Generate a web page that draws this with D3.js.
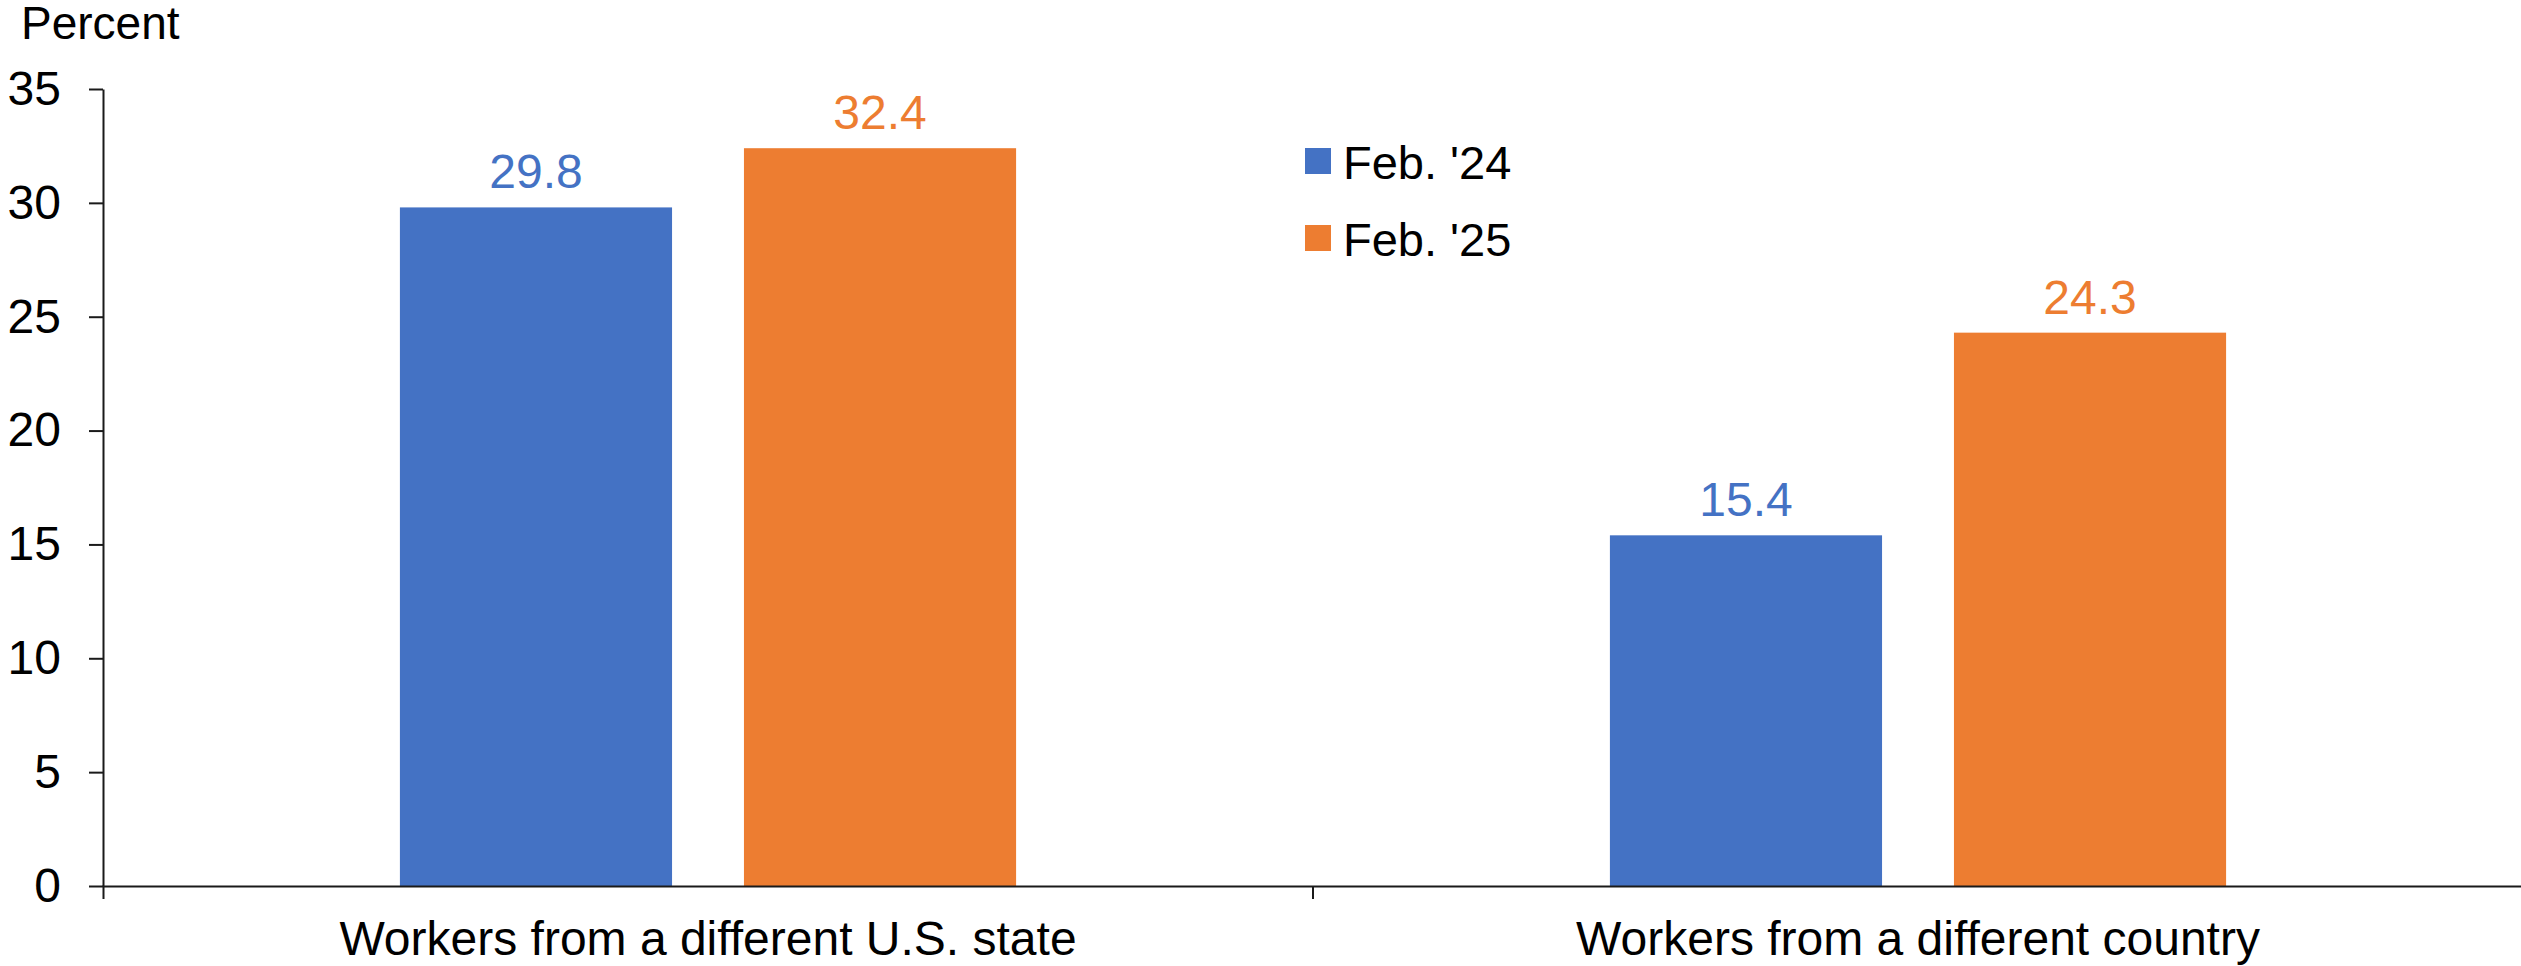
<!DOCTYPE html>
<html>
<head>
<meta charset="utf-8">
<script src="https://cdn.jsdelivr.net/npm/d3@7"></script>
<style>
    body { margin: 0; background: #fff; }
    svg text { font-family: "Liberation Sans", Arial, sans-serif; }
</style>
</head>
<body>
<div class="chart"></div>
<script>
'use strict';
const categories = ["Workers from a different U.S. state", "Workers from a different country"];
const seriesNames = ["Feb. '24", "Feb. '25"];
const feb24 = [29.8, 15.4];
const feb25 = [32.4, 24.3];
const yTicks = [0, 5, 10, 15, 20, 25, 30, 35];
const colors = ["#4472C4", "#ED7D31"];

(() => {
    const width = 2521, height = 966;
    const margin = { top: 89, right: -2, bottom: 80, left: 103 };
    const fontSize = 48;

    const svg = d3.select(".chart").append("svg")
        .attr("width", width)
        .attr("height", height);

    // one row per category, one value per series
    const rows = categories.map((c, i) => ({ category: c, values: [feb24[i], feb25[i]] }));

    const x0 = d3.scaleBand()
        .domain(categories)
        .range([margin.left, width - margin.right])
        .paddingInner(0)
        .paddingOuter(0);
    const x1 = d3.scaleBand()
        .domain(seriesNames)
        .range([0, x0.bandwidth()])
        .paddingInner(0.209)
        .paddingOuter(0.863);
    const y = d3.scaleLinear()
        .domain([0, 35])
        .range([height - margin.bottom, margin.top]);
    const color = d3.scaleOrdinal().domain(seriesNames).range(colors);

    // bars
    const groups = svg.selectAll(".group")
        .data(rows)
        .enter().append("g")
            .attr("transform", d => `translate(${x0(d.category)},0)`);
    groups.selectAll("rect")
        .data(d => d.values.map((v, i) => ({ key: seriesNames[i], value: v })))
        .enter().append("rect")
            .attr("x", d => x1(d.key))
            .attr("y", d => y(d.value))
            .attr("width", x1.bandwidth())
            .attr("height", d => y(0) - y(d.value))
            .attr("fill", d => color(d.key));
    groups.selectAll(".label")
        .data(d => d.values.map((v, i) => ({ key: seriesNames[i], value: v })))
        .enter().append("text")
            .attr("x", d => x1(d.key) + x1.bandwidth() / 2)
            .attr("y", d => y(d.value) - 19)
            .attr("text-anchor", "middle")
            .style("font-size", fontSize + "px")
            .style("fill", d => color(d.key))
            .text(d => d.value.toFixed(1));

    // y axis
    const yAxis = svg.append("g")
        .attr("transform", `translate(${margin.left},0)`)
        .call(d3.axisLeft(y).tickValues(yTicks).tickSizeInner(14).tickSizeOuter(0).tickPadding(28));
    yAxis.selectAll("line, path").attr("stroke", "#1a1a1a").attr("stroke-width", 2);
    yAxis.selectAll("text").style("font-size", fontSize + "px").style("font-family", null).attr("fill", "#000");

    // x axis, ticks between the categories
    const xAxis = svg.append("g")
        .attr("transform", `translate(0,${y(0)})`)
        .call(d3.axisBottom(x0).tickSizeInner(0).tickSizeOuter(13).tickPadding(35));
    xAxis.selectAll("path").attr("stroke", "#1a1a1a").attr("stroke-width", 2);
    xAxis.selectAll("text").style("font-size", fontSize + "px").style("font-family", null).attr("fill", "#000");
    xAxis.selectAll(".divider")
        .data(categories.slice(1))
        .enter().append("line")
            .attr("x1", d => x0(d))
            .attr("x2", d => x0(d))
            .attr("y1", 0)
            .attr("y2", 13)
            .attr("stroke", "#1a1a1a")
            .attr("stroke-width", 2);

    // unit label
    svg.append("text")
        .attr("x", 21)
        .attr("y", 39)
        .style("font-size", "46px")
        .text("Percent");

    // legend
    const legend = svg.append("g").attr("transform", "translate(1305,148)");
    const size = 26;
    legend.selectAll(".legend-dot")
        .data(seriesNames)
        .enter().append("rect")
            .attr("x", 0)
            .attr("y", (d, i) => i * 77)
            .attr("width", size)
            .attr("height", size)
            .style("fill", d => color(d));
    legend.selectAll(".legend-label")
        .data(seriesNames)
        .enter().append("text")
            .attr("x", 38)
            .attr("y", (d, i) => i * 77 + 31)
            .style("font-size", "47px")
            .style("fill", "#000")
            .text(d => d);
})();
</script>
</body>
</html>
